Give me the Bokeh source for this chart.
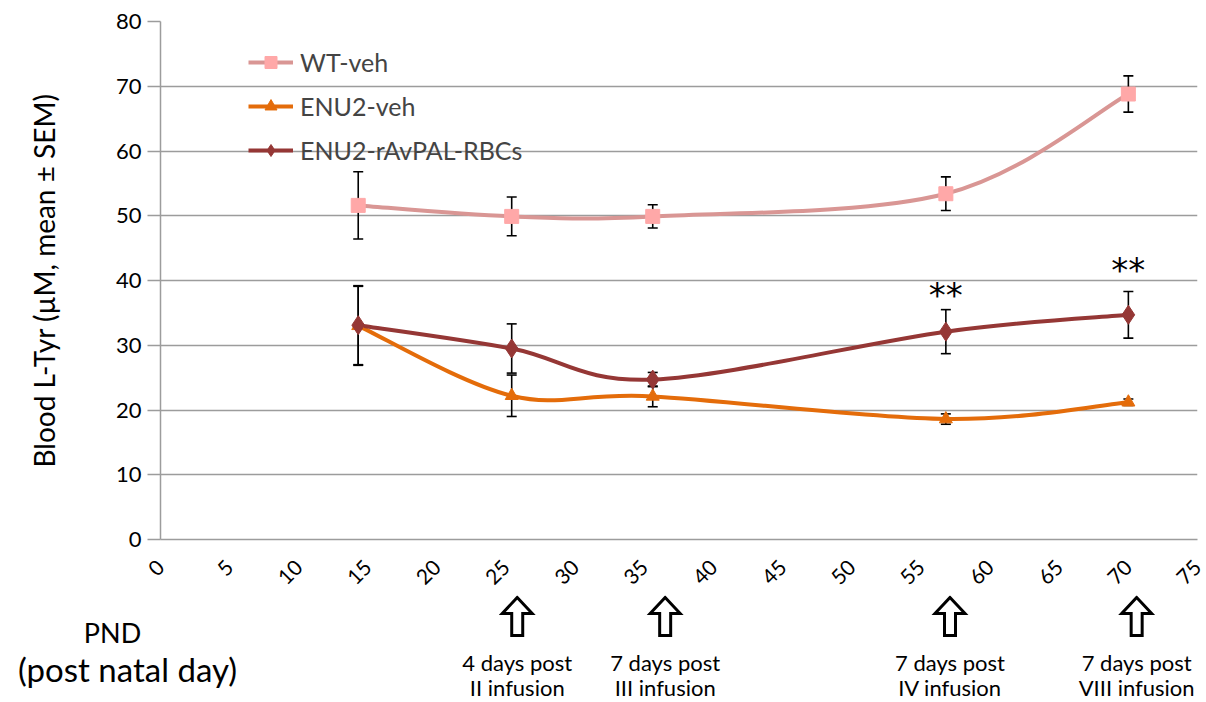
import math
from bokeh.plotting import figure
from bokeh.models import Range1d, FixedTicker, Legend, LegendItem, ColumnDataSource
from bokeh.layouts import column
from bokeh.core.properties import value
from bokeh.embed import file_html
from bokeh.resources import INLINE

# ---------------- data ----------------
pnd = [14.3, 25.4, 35.6, 56.8, 70.0]
wt_veh = [51.6, 49.9, 49.9, 53.4, 68.8]
wt_veh_sem = [5.2, 3.0, 1.8, 2.6, 2.8]
enu2_veh = [33.0, 22.2, 22.1, 18.6, 21.2]
enu2_veh_sem = [6.1, 3.2, 1.6, 0.8, 0.5]
enu2_pal = [33.1, 29.5, 24.7, 32.1, 34.7]
enu2_pal_sem = [6.1, 3.8, 1.1, 3.4, 3.6]
star_x = [56.8, 70.0]
star_y = [37.8, 41.6]
star_text = ["**", "**"]
x_ticks = list(range(0, 80, 5))
y_ticks = list(range(0, 90, 10))
arrow_x = [25.8, 36.5, 57.1, 70.6]
note_line1 = ["4 days post", "7 days post", "7 days post", "7 days post"]
note_line2 = ["II infusion", "III infusion", "IV infusion", "VIII infusion"]

FONT = "Lato"
W, H_ALL, H_TOP = 1206, 702, 595
LEFT, RIGHT, TOP = 160, 9, 21
BOTTOM = H_TOP - 539
frame_w = W - LEFT - RIGHT
px_per_unit = frame_w / 75.0

p = figure(width=W, height=H_TOP, x_range=Range1d(0, 75), y_range=Range1d(0, 80),
           output_backend="svg", toolbar_location=None,
           min_border_left=LEFT, min_border_right=RIGHT,
           min_border_top=TOP, min_border_bottom=BOTTOM, frame_align=False)
p.outline_line_color = None
p.background_fill_color = "white"
p.xgrid.visible = False
p.ygrid.grid_line_color = "#9C9C9C"
p.ygrid.grid_line_width = 1.5
p.ygrid.ticker = FixedTicker(ticks=y_ticks)

p.yaxis.ticker = FixedTicker(ticks=y_ticks)
p.yaxis.axis_line_color = "#9C9C9C"
p.yaxis.axis_line_width = 1.5
p.yaxis.major_tick_line_color = "#9C9C9C"
p.yaxis.major_tick_line_width = 1.5
p.yaxis.major_tick_out = 13
p.yaxis.major_tick_in = 0
p.yaxis.minor_tick_line_color = None
p.yaxis.major_label_text_font = FONT
p.yaxis.major_label_text_font_size = "22px"
p.yaxis.major_label_text_color = "black"
p.yaxis.major_label_standoff = 6
p.yaxis.axis_label = "Blood L-Tyr (\u00b5M, mean \u00b1 SEM)"
p.yaxis.axis_label_text_font = FONT
p.yaxis.axis_label_text_font_size = "28px"
p.yaxis.axis_label_text_font_style = "normal"
p.yaxis.axis_label_text_color = "black"
p.yaxis.axis_label_standoff = 52

p.xaxis.ticker = FixedTicker(ticks=x_ticks)
p.xaxis.axis_line_color = "#9C9C9C"
p.xaxis.axis_line_width = 1.5
p.xaxis.major_tick_line_color = None
p.xaxis.minor_tick_line_color = None
p.xaxis.major_label_orientation = math.pi / 4
p.xaxis.major_label_text_font = FONT
p.xaxis.major_label_text_font_size = "21px"
p.xaxis.major_label_text_color = "black"
p.xaxis.major_label_standoff = 18


def smooth_controls(xs, ys):
    """Catmull-Rom style bezier controls (Excel smoothed line) from data points."""
    n = len(xs)
    x0, y0, x1, y1, cx0, cy0, cx1, cy1 = [], [], [], [], [], [], [], []
    for i in range(n - 1):
        im1 = max(i - 1, 0)
        ip2 = min(i + 2, n - 1)
        x0.append(xs[i]); y0.append(ys[i])
        x1.append(xs[i + 1]); y1.append(ys[i + 1])
        cx0.append(xs[i] + (xs[i + 1] - xs[im1]) / 6.0)
        cy0.append(ys[i] + (ys[i + 1] - ys[im1]) / 6.0)
        cx1.append(xs[i + 1] - (xs[ip2] - xs[i]) / 6.0)
        cy1.append(ys[i + 1] - (ys[ip2] - ys[i]) / 6.0)
    return dict(x0=x0, y0=y0, x1=x1, y1=y1, cx0=cx0, cy0=cy0, cx1=cx1, cy1=cy1)


series = [
    ("WT-veh", wt_veh, wt_veh_sem, "#D99694", "#FFA8A8", "square", 14),
    ("ENU2-veh", enu2_veh, enu2_veh_sem, "#E46C0A", "#E46C0A", "triangle", 13),
    ("ENU2-rAvPAL-RBCs", enu2_pal, enu2_pal_sem, "#953735", "#953735", "diamond", 19),
]

cap = 5.0 / px_per_unit
line_renderers = []
for name, ys, sem, lc, mc, mk, ms in series:
    src = ColumnDataSource(smooth_controls(pnd, ys))
    r = p.bezier(x0="x0", y0="y0", x1="x1", y1="y1", cx0="cx0", cy0="cy0",
                 cx1="cx1", cy1="cy1", source=src, line_color=lc, line_width=4)
    line_renderers.append(r)

for name, ys, sem, lc, mc, mk, ms in series:
    lo = [y - e for y, e in zip(ys, sem)]
    hi = [y + e for y, e in zip(ys, sem)]
    p.segment(x0=pnd, y0=lo, x1=pnd, y1=hi, line_color="black", line_width=1.6)
    xl = [x - cap for x in pnd]
    xr = [x + cap for x in pnd]
    p.segment(x0=xl, y0=lo, x1=xr, y1=lo, line_color="black", line_width=1.6)
    p.segment(x0=xl, y0=hi, x1=xr, y1=hi, line_color="black", line_width=1.6)

marker_renderers = []
for name, ys, sem, lc, mc, mk, ms in series:
    r = p.scatter(x=pnd, y=ys, marker=mk, size=ms, fill_color=mc, line_color=mc)
    marker_renderers.append(r)

p.text(x=star_x, y=star_y, text=star_text, text_font=value("DejaVu Sans"),
       text_font_size="34px", text_align="center", text_baseline="middle",
       text_color="black")

items = [LegendItem(label=s[0], renderers=[lr, mr])
         for s, lr, mr in zip(series, line_renderers, marker_renderers)]
legend = Legend(items=items, location=(88, 374), glyph_width=45, glyph_height=30,
                label_height=30, spacing=14, padding=10, margin=0,
                label_text_font=FONT, label_text_font_size="25px",
                label_standoff=7, border_line_color=None,
                background_fill_alpha=0)
p.add_layout(legend)

# ---------------- bottom annotation strip (y in page pixels) ----------------
p2 = figure(width=W, height=H_ALL - H_TOP,
            x_range=Range1d(-LEFT / px_per_unit, (W - LEFT) / px_per_unit),
            y_range=Range1d(H_ALL, H_TOP), x_axis_type=None, y_axis_type=None,
            output_backend="svg", toolbar_location=None, min_border=0,
            frame_align=False)
p2.outline_line_color = None
p2.grid.visible = False

ARROW_TOP = 597
shape = [(0, 0), (15, 16), (5.5, 16), (5.5, 38), (-5.5, 38), (-5.5, 16), (-15, 16)]
axs = [[ax + dx / px_per_unit for dx, dy in shape] for ax in arrow_x]
ays = [[ARROW_TOP + dy for dx, dy in shape] for ax in arrow_x]
p2.patches(xs=axs, ys=ays, fill_color="white", line_color="black", line_width=3,
           line_join="miter")

p2.text(x=arrow_x, y=[662] * len(arrow_x), text=note_line1, text_font=value(FONT),
        text_font_size="22px", text_align="center", text_baseline="middle")
p2.text(x=arrow_x, y=[687] * len(arrow_x), text=note_line2, text_font=value(FONT),
        text_font_size="22px", text_align="center", text_baseline="middle")
p2.text(x=[(112 - LEFT) / px_per_unit], y=[632], text=["PND"], text_font=value(FONT),
        text_font_size="27px", text_align="center", text_baseline="middle")
p2.text(x=[(127 - LEFT) / px_per_unit], y=[668], text=["(post natal day)"],
        text_font=value(FONT), text_font_size="33px", text_align="center",
        text_baseline="middle")

layout = column(p, p2, spacing=0)
open("out.html", "w").write(file_html(layout, INLINE))
